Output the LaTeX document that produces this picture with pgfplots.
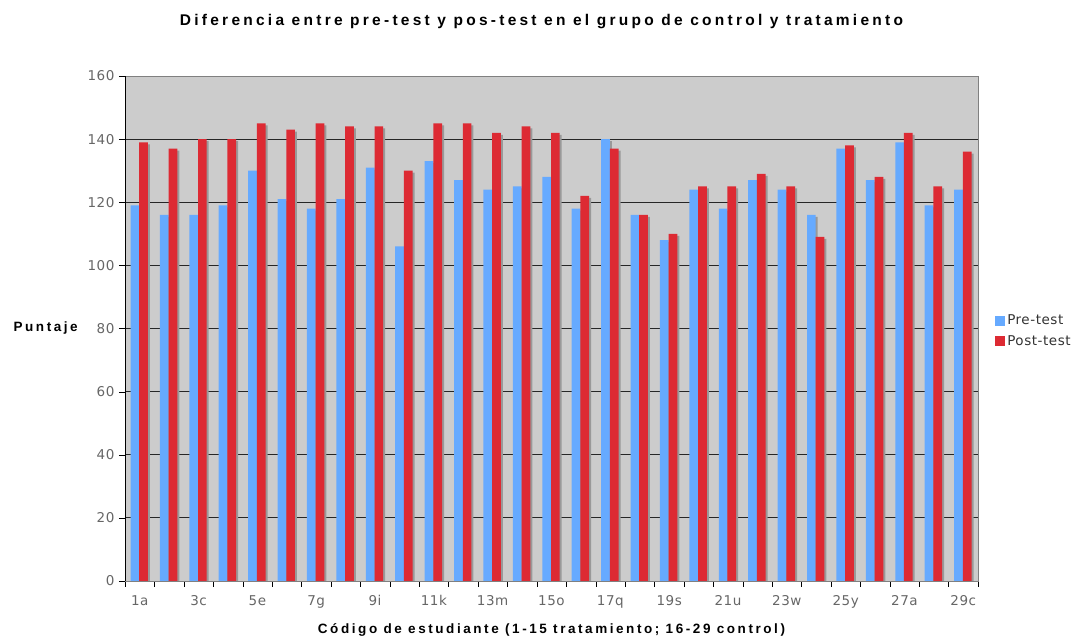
\documentclass[border=0pt]{standalone}
\usepackage{pgfplots}
\pgfplotsset{compat=1.18}
\usepackage{pgfplotstable}
\usepackage{fontspec}
\setmainfont{DejaVu Sans}
\newfontfamily\tickfont[LetterSpace=4]{DejaVu Sans}
\newfontfamily\titlefont[LetterSpace=21]{Liberation Sans}
\newfontfamily\labelfont[LetterSpace=19]{Liberation Sans}
\definecolor{preblue}{HTML}{66AAFF}
\definecolor{postred}{HTML}{DD2A33}
\definecolor{bggray}{HTML}{CCCCCC}
\definecolor{shadow}{HTML}{999999}
\definecolor{ticktxt}{HTML}{666666}
\pgfplotstableread{
x pre post
0 119 139
1 116 137
2 116 140
3 119 140
4 130 145
5 121 143
6 118 145
7 121 144
8 131 144
9 106 130
10 133 145
11 127 145
12 124 142
13 125 144
14 128 142
15 118 122
16 140 137
17 116 116
18 108 110
19 124 125
20 118 125
21 127 129
22 124 125
23 116 109
24 137 138
25 127 128
26 139 142
27 119 125
28 124 136
}\datatable
\begin{document}
\begin{tikzpicture}
\path[use as bounding box] (0,0) rectangle (1082pt,642pt);
\begin{axis}[
  at={(125pt,61pt)}, anchor=south west,
  width=853pt, height=505pt, scale only axis,
  ybar, bar width=8.7pt,
  xmin=-0.5, xmax=28.5, ymin=0, ymax=160,
  ytick={0,20,...,160},
  xtick={0,2,...,28},
  xticklabels={1a,3c,5e,7g,9i,11k,13m,15o,17q,19s,21u,23w,25y,27a,29c},
  minor xtick={-0.5,0.5,...,28.5},
  xtick pos=bottom, ytick pos=left,
  major x tick style={draw=none},
  minor x tick style={black},
  tick align=outside,
  major tick length=6pt, minor tick length=6pt,
  ymajorgrids, grid style={black!85, line width=0.8pt},
  axis background/.style={fill=bggray},
  axis line style={gray},
  /pgf/number format/assume math mode=true,
  tick label style={font=\tickfont\fontsize{13.5}{15}\selectfont, text=ticktxt},
  xticklabel style={yshift=-5pt},
  yticklabel style={xshift=-1pt},
  y tick style={black},
  xlabel={\labelfont\bfseries\fontsize{13.5}{15}\selectfont Código de estudiante (1-15 tratamiento; 16-29 control)},
  xlabel style={at={(axis description cs:0.5,0)}, anchor=north, yshift=-39pt},
  ylabel={\labelfont\bfseries\fontsize{13.5}{15}\selectfont Puntaje},
  ylabel style={at={(axis description cs:-0.093,0.5)}, rotate=-90, anchor=center},
  title={\titlefont\bfseries\fontsize{15.5}{18}\selectfont Diferencia entre pre-test y pos-test en el grupo de control y tratamiento},
  title style={at={(axis description cs:0.5,1)}, anchor=south, yshift=38pt, xshift=-10pt},
  legend style={at={(rel axis cs:1.02,0.535)}, anchor=north west, draw=none, fill=none,
    font=\tickfont\fontsize{13.5}{15}\selectfont, text=black!80, row sep=5pt, inner xsep=0pt},
  legend image code/.code={\fill[#1] (0pt,-5pt) rectangle (10pt,5pt);},
  legend cell align=left,
]
\addplot[fill=shadow, draw=none, bar shift=-2.85pt, yshift=-2pt, forget plot] table[x=x,y=pre] {\datatable};
\addplot[fill=preblue, draw=none, bar shift=-4.85pt] table[x=x,y=pre] {\datatable};
\addplot[fill=shadow, draw=none, bar shift=5.85pt, yshift=-2pt, forget plot] table[x=x,y=post] {\datatable};
\addplot[fill=postred, draw=none, bar shift=3.85pt] table[x=x,y=post] {\datatable};
\legend{Pre-test, Post-test}
\draw[black, line width=0.8pt] (rel axis cs:0,0) -- (rel axis cs:1,0);
\draw[black, line width=0.8pt] (rel axis cs:0,0) -- (rel axis cs:0,1);
\end{axis}
\end{tikzpicture}
\end{document}
